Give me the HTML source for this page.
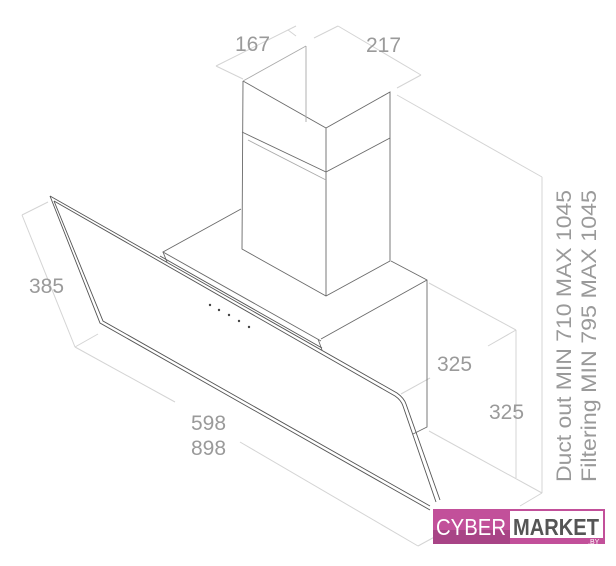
<!DOCTYPE html>
<html><head><meta charset="utf-8"><style>
html,body{margin:0;padding:0;background:#fff}
body{width:616px;height:566px;position:relative;overflow:hidden;font-family:"Liberation Sans",sans-serif}
svg{position:absolute;left:0;top:0}
</style></head><body>
<svg width="616" height="566" viewBox="0 0 616 566">
<g fill="none" stroke="#d4d4d4" stroke-width="1">
 <line x1="216" y1="66" x2="296" y2="26"/><line x1="216" y1="66" x2="243" y2="79"/><line x1="288" y1="30" x2="296" y2="36"/>
 <line x1="314" y1="38" x2="338" y2="26"/><line x1="338" y1="26" x2="421" y2="75"/><line x1="421" y1="75" x2="397" y2="88"/>
 <line x1="22" y1="215" x2="75" y2="347"/><line x1="22" y1="215" x2="48" y2="202"/><line x1="75" y1="347" x2="98" y2="334"/>
 <line x1="75" y1="347" x2="175" y2="402"/><line x1="240" y1="442" x2="418" y2="546"/><line x1="418" y1="546" x2="440" y2="534"/>
 <line x1="397" y1="95" x2="542" y2="177"/><line x1="542" y1="177" x2="542" y2="493"/><line x1="542" y1="493" x2="520" y2="506"/>
 <line x1="429" y1="431" x2="542" y2="493"/>
 <line x1="429" y1="283" x2="516" y2="330"/><line x1="516" y1="330" x2="516" y2="478"/>
 <line x1="401" y1="394" x2="430" y2="378"/><line x1="488" y1="346" x2="516" y2="330"/>
</g>
<g fill="none" stroke="#6a6a6a" stroke-width="0.9">
 <polyline points="243,81 326,128 390,92 390,261 326,296 242,249 243,81"/>
 <line x1="306" y1="46" x2="306" y2="122" stroke="#aaa"/>
 <line x1="243" y1="81" x2="306" y2="46" stroke="#aaa"/>
 <line x1="326" y1="128" x2="326" y2="296"/>
 <line x1="242" y1="132" x2="326" y2="172"/><line x1="326" y1="172" x2="390" y2="138"/>
 <line x1="248" y1="140" x2="326" y2="180" stroke="#aaa"/>
 <polyline points="241,209 163,252 321,341"/>
 <polyline points="391,261 427,280 427,427 413,434"/>
 <line x1="427" y1="280" x2="321" y2="339"/>
 <line x1="163" y1="252" x2="167" y2="262"/>
 <line x1="318" y1="339" x2="322" y2="350"/>
</g>
<g fill="none" stroke="#555" stroke-width="0.9">
 <path d="M50,196 L397,393 Q404,398 406,404 L440,500"/>
 <path d="M54,201 L395,396 Q401,400 403,406 L436,502"/>
 <path d="M50,196 L100,323 L430,510"/>
 <path d="M54,201 L103,321 L430,506"/>
 <line x1="160" y1="256" x2="322" y2="348"/>
</g>
<g fill="#444">
 <circle cx="210" cy="305" r="1.2"/><circle cx="219" cy="310" r="1.2"/><circle cx="229" cy="315" r="1.2"/><circle cx="239" cy="321" r="1.2"/><circle cx="249" cy="327" r="1.2"/>
</g>
<g fill="#9a9a9a" font-family="'Liberation Sans',sans-serif" font-size="21">
 <text x="235" y="51">167</text>
 <text x="366" y="52">217</text>
 <text x="29" y="293">385</text>
 <text x="191" y="430">598</text>
 <text x="191" y="455">898</text>
 <text x="437" y="371">325</text>
 <text x="489" y="419">325</text>
 <text transform="translate(571,482) rotate(-90)" font-size="21" textLength="292" lengthAdjust="spacingAndGlyphs">Duct out MIN 710 MAX 1045</text>
 <text transform="translate(596,482) rotate(-90)" font-size="21" textLength="292" lengthAdjust="spacingAndGlyphs">Filtering MIN 795 MAX 1045</text>
</g>
<rect x="433" y="509" width="172" height="35" fill="#c2509a"/>
<rect x="433" y="530" width="77" height="14" fill="#a84486"/>
<rect x="510" y="511" width="93" height="27" fill="#fff"/>
<text x="436" y="535" fill="#fff" font-size="23" font-family="'Liberation Sans',sans-serif" textLength="70" lengthAdjust="spacingAndGlyphs">CYBER</text>
<text x="513" y="535" fill="#555" font-size="23" font-weight="bold" font-family="'Liberation Sans',sans-serif" textLength="86" lengthAdjust="spacingAndGlyphs">MARKET</text>
<text x="588" y="544" fill="#fff" font-size="7" font-family="'Liberation Sans',sans-serif">.BY</text>
</svg>
</body></html>
